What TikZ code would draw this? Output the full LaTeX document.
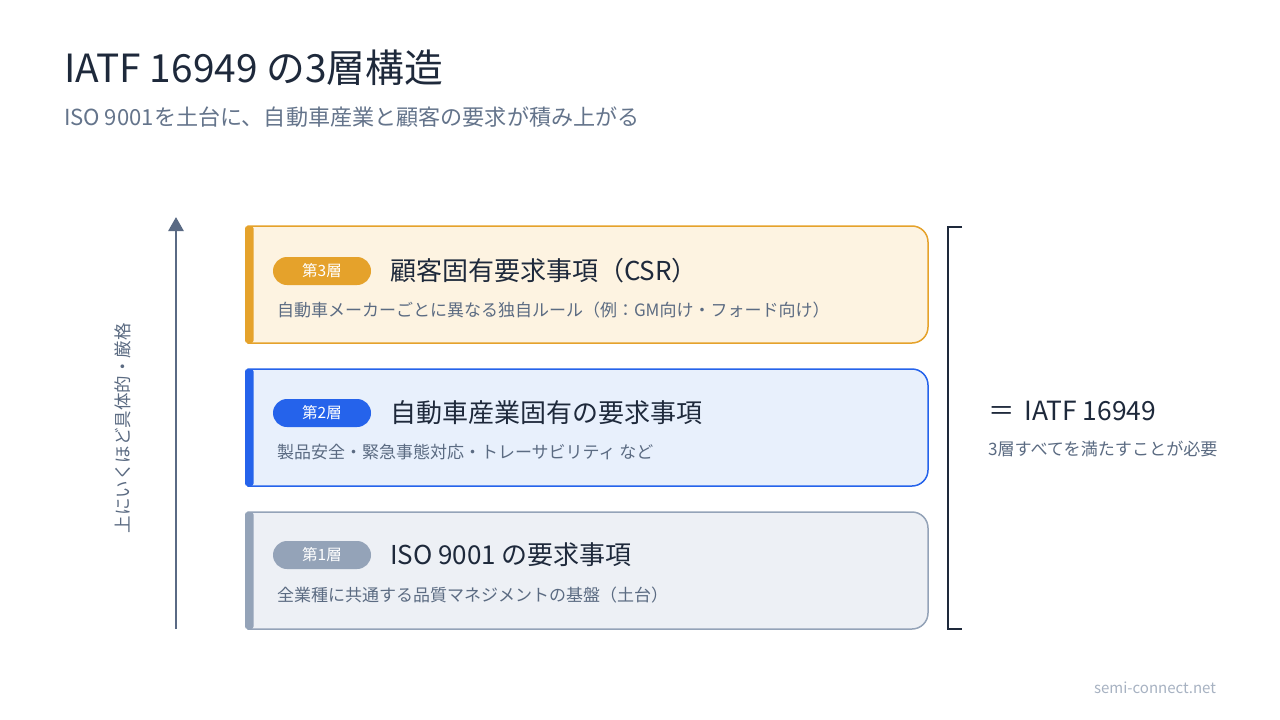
\documentclass[tikz,border=0pt]{standalone}
\usepackage{fontspec}
\setmainfont{Noto Sans CJK JP}
\usetikzlibrary{arrows.meta}
\definecolor{ink}{HTML}{1E293B}
\definecolor{sub}{HTML}{64748B}
\definecolor{desc}{HTML}{5B6B82}
\definecolor{arrowc}{HTML}{5A6A84}
\definecolor{faint}{HTML}{A7B2C2}
\definecolor{oFill}{HTML}{FDF3E1}
\definecolor{oLine}{HTML}{E5A22B}
\definecolor{bFill}{HTML}{E8F0FC}
\definecolor{bLine}{HTML}{2563EB}
\definecolor{gFill}{HTML}{EDF0F5}
\definecolor{gLine}{HTML}{94A3B8}
\newcommand{\fs}[1]{\fontsize{#1}{#1}\selectfont}
\newcommand{\layerbox}[4]{% top, bottom, fill, line
  \filldraw[fill=#3, draw=#4, line width=1.5pt]
    (248,#1) -- (912,#1) arc(-90:0:16) -- (928,#2-16) arc(0:90:16) -- (248,#2) -- cycle;
  \fill[#4, rounded corners=2.5pt] (245,#1) rectangle (253.5,#2);
}
\begin{document}
\begin{tikzpicture}[x=1pt,y=-1pt,
  every node/.style={inner sep=0pt, outer sep=0pt},
  pill/.style={rounded corners=14pt, minimum width=98pt, minimum height=28pt, text=white, font=\fs{15.5}},
  ltitle/.style={anchor=west, text=ink, font=\fs{26}},
  ldesc/.style={anchor=west, text=desc, font=\fs{17}}]
\useasboundingbox[fill=white] (0,0) rectangle (1280,720);

\node[anchor=west, text=ink, font=\fs{38.8}] (title) at (64,68) {IATF 16949 の3層構造};
\node[anchor=west, text=sub, font=\fs{22.1}] (subtitle) at (64,117) {ISO 9001を土台に、自動車産業と顧客の要求が積み上がる};

% layer 3
\layerbox{226}{343}{oFill}{oLine}
\node[pill, fill=oLine] (p3) at (322,271) {第3層};
\node[ltitle] (t3) at (390,271) {顧客固有要求事項（CSR）};
\node[ldesc] (d3) at (277,310) {自動車メーカーごとに異なる独自ルール（例：GM向け・フォード向け）};

% layer 2
\layerbox{369}{486}{bFill}{bLine}
\node[pill, fill=bLine] (p2) at (322,413) {第2層};
\node[ltitle] (t2) at (390,413) {自動車産業固有の要求事項};
\node[ldesc] (d2) at (277,452) {製品安全・緊急事態対応・トレーサビリティ など};

% layer 1
\layerbox{512}{629}{gFill}{gLine}
\node[pill, fill=gLine] (p1) at (322,555) {第1層};
\node[ltitle] (t1) at (390,555) {ISO 9001 の要求事項};
\node[ldesc] (d1) at (277,595) {全業種に共通する品質マネジメントの基盤（土台）};

% arrow
\coordinate (abot) at (176,629);
\coordinate (atop) at (176,217);
\draw[arrowc, line width=2.7pt, -{Triangle[length=14pt, width=15pt]}] (abot) -- (atop);
\node[rotate=90, text=desc, font=\fs{17.5}] (alabel) at (123,428) {上にいくほど具体的・厳格};

% bracket
\coordinate (b1) at (962,227);
\coordinate (b2) at (948,227);
\coordinate (b3) at (948,629);
\coordinate (b4) at (962,629);
\draw[ink, line width=2.5pt] (b1) -- (b2) -- (b3) -- (b4);
\node[anchor=west, text=ink, font=\fs{26.4}] (eq) at (988,411) {＝\hspace{10pt}IATF 16949};
\node[anchor=west, text=desc, font=\fs{17.1}] (eqsub) at (988,449) {3層すべてを満たすことが必要};

\node[anchor=east, text=faint, font=\fs{15}] (site) at (1216,688) {semi-connect.net};
\end{tikzpicture}
\end{document}
